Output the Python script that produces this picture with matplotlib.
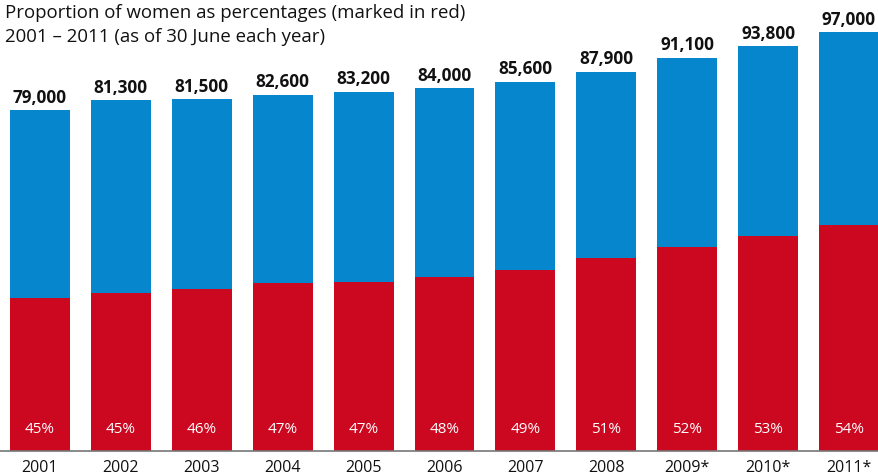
import matplotlib
matplotlib.use("Agg")
import matplotlib.pyplot as plt

years = ["2001", "2002", "2003", "2004", "2005", "2006", "2007", "2008", "2009*", "2010*", "2011*"]
totals = [79000, 81300, 81500, 82600, 83200, 84000, 85600, 87900, 91100, 93800, 97000]
women_pct = [45, 45, 46, 47, 47, 48, 49, 51, 52, 53, 54]

title_lines = ["Proportion of women as percentages (marked in red)",
               "2001 \u2013 2011 (as of 30 June each year)"]

blue = "#0586cd"
red = "#cc0820"
font = "Open Sans"

fig = plt.figure(figsize=(8.79, 4.76), dpi=100)
ax = fig.add_axes([0, 25/476, 1, 451/476])

x = list(range(len(years)))
women = [t * p / 100 for t, p in zip(totals, women_pct)]
men = [t - w for t, w in zip(totals, women)]
w = 0.74
ax.bar(x, women, width=w, color=red, linewidth=0)
ax.bar(x, men, width=w, bottom=women, color=blue, linewidth=0)

ax.set_xlim(-0.494, 10.371)
ax.set_ylim(0, 104500)
for s in ax.spines.values():
    s.set_visible(False)
ax.set_xticks([]); ax.set_yticks([])
ax.axhline(0, color="#777777", lw=1.2, clip_on=False)

for xi, t, p, yr in zip(x, totals, women_pct, years):
    ax.annotate(f"{t:,}", (xi, t), xytext=(0, 2.5), textcoords="offset points",
                ha="center", va="bottom", fontsize=12.3, fontweight="bold", family=font, color="#111111")
    ax.annotate(f"{p}%", (xi, 0), xytext=(0, 15.5), textcoords="offset points",
                ha="center", va="center", fontsize=11, family=font, color="white")
    ax.annotate(yr, (xi, 0), xytext=(0, -12), textcoords="offset points",
                ha="center", va="center", fontsize=11.5, family=font, color="#111111", annotation_clip=False)

fig.text(5/879, 1 - 13/476, title_lines[0], ha="left", va="center", fontsize=13.4, family=font, color="#111111")
fig.text(5/879, 1 - 37/476, title_lines[1], ha="left", va="center", fontsize=13.4, family=font, color="#111111")

fig.savefig("out.png", dpi=100)
